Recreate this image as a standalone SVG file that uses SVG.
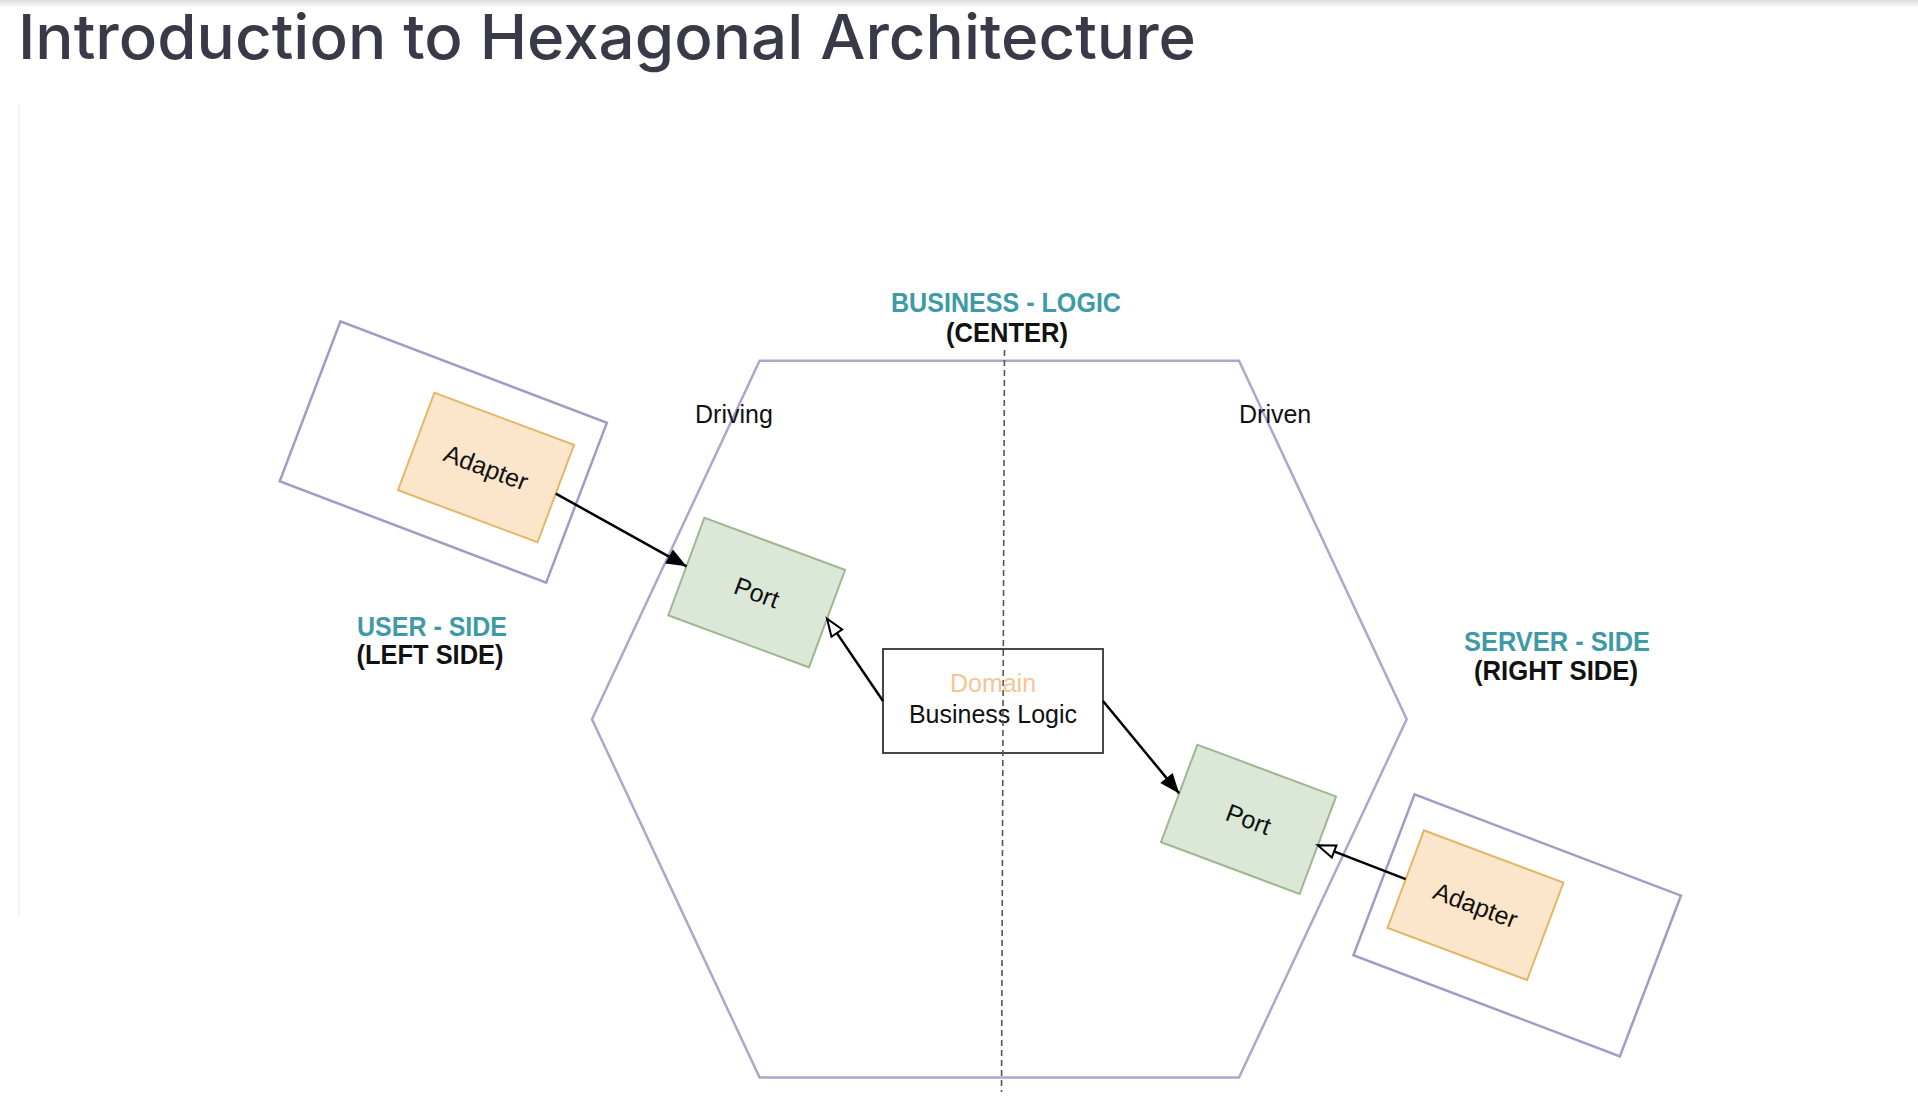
<svg xmlns="http://www.w3.org/2000/svg" width="1918" height="1112" viewBox="0 0 1918 1112">
  <defs>
    <linearGradient id="topShade" x1="0" y1="0" x2="0" y2="1">
      <stop offset="0" stop-color="#dcdcdc"/>
      <stop offset="1" stop-color="#ffffff"/>
    </linearGradient>
    <marker id="arrowFilled" markerUnits="userSpaceOnUse" markerWidth="22" markerHeight="18" refX="20" refY="8" orient="auto" overflow="visible">
      <path d="M0,0 L20,8 L0,16 Z" fill="#000"/>
    </marker>
    <marker id="arrowOpen" markerUnits="userSpaceOnUse" markerWidth="22" markerHeight="18" refX="19" refY="8" orient="auto" overflow="visible">
      <path d="M1.5,1.5 L19,8 L1.5,14.5 Z" fill="#fff" stroke="#000" stroke-width="2" stroke-linejoin="miter"/>
    </marker>
  </defs>
  <style>
    .title { font-family: Inter, "Open Sans", sans-serif; font-weight: 500; font-size: 62px; fill: #3a3948; }
    .lbl { font-family: "Liberation Sans", Arial, sans-serif; font-size: 25px; fill: #111; }
    .head { font-family: "Liberation Sans", Arial, sans-serif; font-size: 28px; font-weight: bold; fill: #3e9aa5; }
    .sub { font-family: "Liberation Sans", Arial, sans-serif; font-size: 28px; font-weight: bold; fill: #111; }
    .frame { fill: #fff; stroke: #a699c6; stroke-width: 2.5; }
    .hex { fill: #fff; stroke: #b0a5cb; stroke-width: 2.5; }
    .adapter { fill: #fce6cb; stroke: #e2b768; stroke-width: 2; }
    .port { fill: #dbe7d7; stroke: #9db890; stroke-width: 2; }
    .domain { fill: #fff; stroke: #333; stroke-width: 1.8; }
    .conn { stroke: #000; stroke-width: 2.5; fill: none; }
  </style>

  <rect x="0" y="0" width="1918" height="8" fill="url(#topShade)"/>
  <line x1="19" y1="104" x2="19" y2="915" stroke="#f2f2f2" stroke-width="2"/>

  <text class="title" x="18" y="59" textLength="1178" lengthAdjust="spacingAndGlyphs">Introduction to Hexagonal Architecture</text>

  <g id="hexagon">
    <polygon class="hex" points="759.6,360.8 1239,360.8 1406.7,719.2 1239,1077.6 759.6,1077.6 592,719.2"/>
  </g>

  <g id="labels">
    <text class="head" x="1006" y="311.5" text-anchor="middle" textLength="230" lengthAdjust="spacingAndGlyphs">BUSINESS - LOGIC</text>
    <text class="sub" x="1007" y="342" text-anchor="middle" textLength="122" lengthAdjust="spacingAndGlyphs">(CENTER)</text>
    <text class="head" x="432" y="636" text-anchor="middle" textLength="150" lengthAdjust="spacingAndGlyphs">USER - SIDE</text>
    <text class="sub" x="430" y="664" text-anchor="middle" textLength="147" lengthAdjust="spacingAndGlyphs">(LEFT SIDE)</text>
    <text class="head" x="1557" y="651" text-anchor="middle" textLength="186" lengthAdjust="spacingAndGlyphs">SERVER - SIDE</text>
    <text class="sub" x="1556" y="680" text-anchor="middle" textLength="164" lengthAdjust="spacingAndGlyphs">(RIGHT SIDE)</text>
    <text class="lbl" x="695" y="422.5">Driving</text>
    <text class="lbl" x="1239" y="422.5">Driven</text>
  </g>

  <g id="left-frame" transform="translate(443.3,452) rotate(20.8)">
    <rect class="frame" x="-142.5" y="-85.5" width="285" height="171"/>
  </g>
  <g id="left-adapter" transform="translate(486,467.5) rotate(20.5)">
    <rect class="adapter" x="-74.5" y="-52" width="149" height="104"/>
    <text class="lbl" x="0" y="0" dy="0.35em" text-anchor="middle">Adapter</text>
  </g>
  <g id="left-port" transform="translate(756.7,592.6) rotate(20.3)">
    <rect class="port" x="-75" y="-52" width="150" height="104"/>
    <text class="lbl" x="0" y="0" dy="0.35em" text-anchor="middle">Port</text>
  </g>

  <g id="right-frame" transform="translate(1517.2,925.4) rotate(20.8)">
    <rect class="frame" x="-142.5" y="-86" width="285" height="172"/>
  </g>
  <g id="right-adapter" transform="translate(1475.5,905.2) rotate(20.5)">
    <rect class="adapter" x="-74.5" y="-52" width="149" height="104"/>
    <text class="lbl" x="0" y="0" dy="0.35em" text-anchor="middle">Adapter</text>
  </g>
  <g id="right-port" transform="translate(1248.5,819.3) rotate(20.5)">
    <rect class="port" x="-74" y="-52" width="148" height="104"/>
    <text class="lbl" x="0" y="0" dy="0.35em" text-anchor="middle">Port</text>
  </g>

  <g id="domain">
    <rect class="domain" x="883" y="649" width="220" height="104"/>
    <text class="lbl" x="993" y="691.5" text-anchor="middle" style="fill:#f5c594">Domain</text>
    <text class="lbl" x="993" y="722.5" text-anchor="middle">Business Logic</text>
  </g>

  <g id="connectors">
    <line class="conn" x1="555.8" y1="493.6" x2="686.5" y2="566.3" marker-end="url(#arrowFilled)"/>
    <line class="conn" x1="883" y1="701" x2="827" y2="618.6" marker-end="url(#arrowOpen)"/>
    <line class="conn" x1="1103" y1="701" x2="1179.2" y2="793.4" marker-end="url(#arrowFilled)"/>
    <line class="conn" x1="1405.7" y1="879.1" x2="1317.8" y2="845.2" marker-end="url(#arrowOpen)"/>
  </g>

  <g id="center-line">
    <line x1="1004.5" y1="350" x2="1001.5" y2="1092" stroke="#555" stroke-width="1.6" stroke-dasharray="6,4"/>
  </g>
</svg>
